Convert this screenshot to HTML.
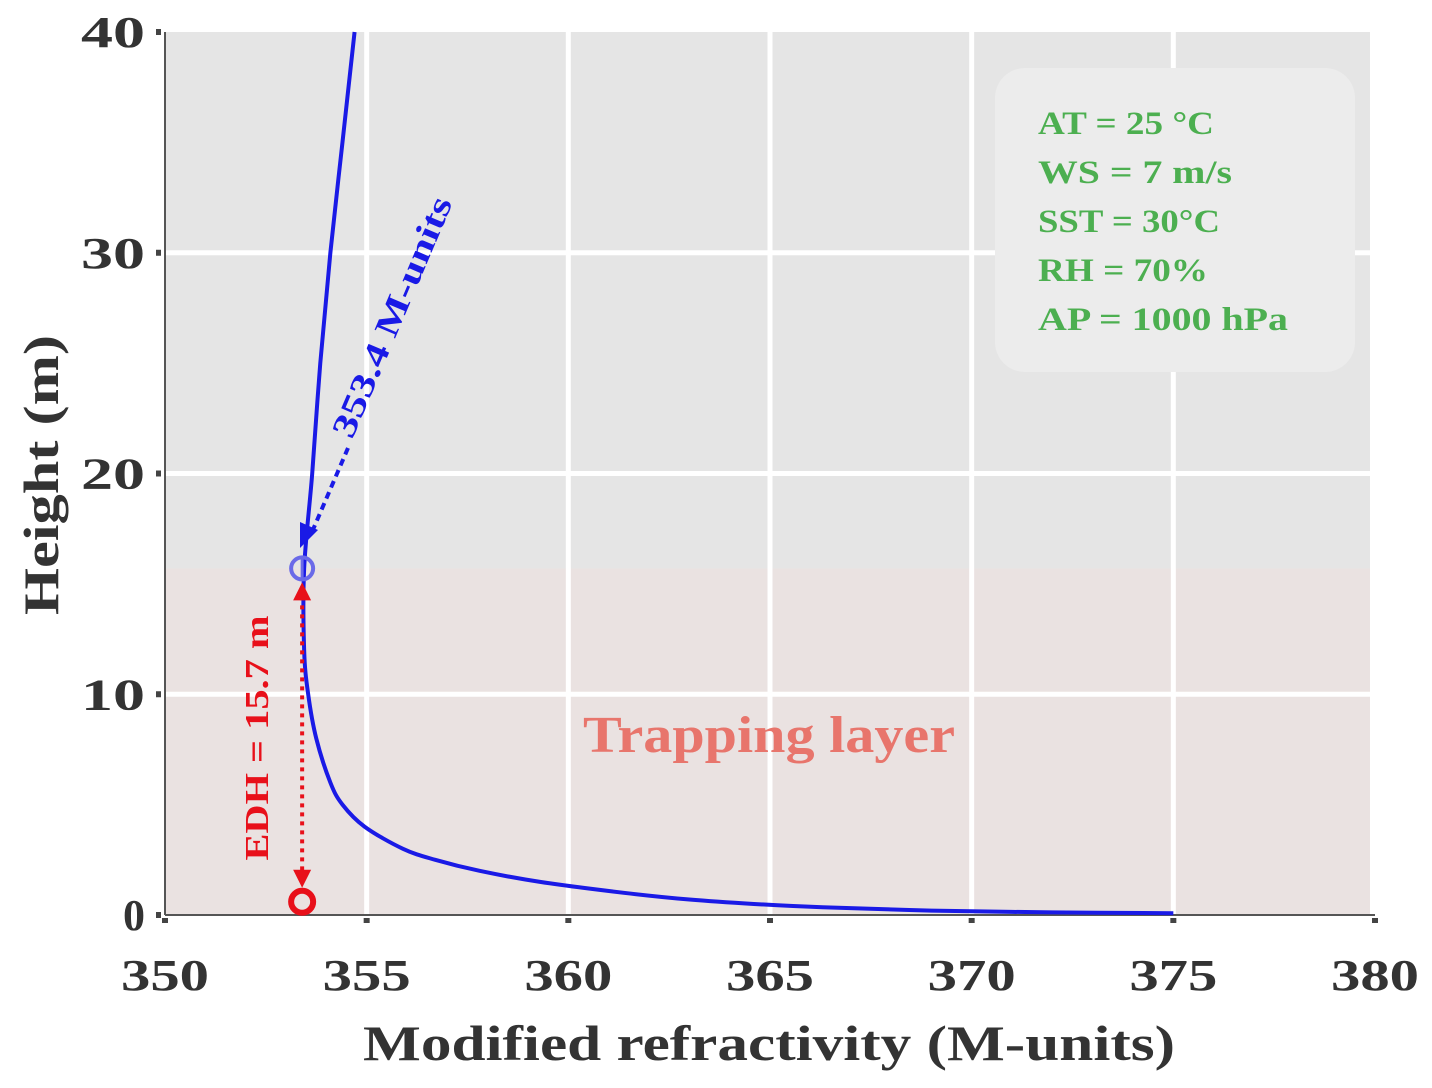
<!DOCTYPE html>
<html><head><meta charset="utf-8"><style>
body{margin:0;background:#fff;}
svg text{font-family:"Liberation Serif",serif;font-weight:bold;}
</style></head><body>
<svg id="chart" width="1432" height="1083" viewBox="0 0 1432 1083" xmlns="http://www.w3.org/2000/svg">
<g id="plot"></g>
</svg>
<script>
const heights=[40,35,30,25,20,15.7,12,10,8,6,5,4,3,2.5,2,1.5,1.0,0.7,0.5,0.35,0.2,0.12,0.08];
const mValues=[354.7,354.4,354.1,353.85,353.65,353.45,353.45,353.55,353.75,354.1,354.4,354.95,355.9,356.7,357.8,359.3,361.4,363.0,364.6,366.3,369.0,372.0,375.0];
const xTicks=[350,355,360,365,370,375,380];
const yTicks=[0,10,20,30,40];
const edh=15.7, mMin=353.4;
const legendLines=["AT = 25 °C","WS = 7 m/s","SST = 30°C","RH = 70%","AP = 1000 hPa"];
const legendWidths=[176,194,182,170,250];

const X0=165,X1=1375,Y0=915,Y1=32;
const xs=v=>X0+(v-350)/30*(X1-X0);
const ys=v=>Y0-(v/40)*(Y0-Y1);
const NS="http://www.w3.org/2000/svg";
const g=document.getElementById('plot');
function mk(t,a,p){const e=document.createElementNS(NS,t);for(const k in a)e.setAttribute(k,a[k]);(p||g).appendChild(e);return e;}

const bg=mk('rect',{x:X0,y:Y1,width:1370-X0,height:Y0-Y1,fill:'#e5e5e5'});


const trap=mk('rect',{x:X0,y:ys(edh),width:1370-X0,height:Y0-ys(edh),fill:'#eae2e1'});



xTicks.forEach(t=>{
 if(t>350&&t<380){const l=mk('line',{x1:xs(t),x2:xs(t),y1:Y1,y2:Y0,stroke:'#fff','stroke-width':5});
 
 }
 mk('rect',{x:xs(t)-3,y:Y0+3,width:6,height:5,fill:'#444'});
 const tx=mk('text',{x:xs(t),y:990,'text-anchor':'middle','font-size':44,fill:'#333',textLength:88,lengthAdjust:'spacingAndGlyphs'});
 tx.textContent=t;
 
 
});
yTicks.forEach(t=>{
 if(t>0&&t<40){const l=mk('line',{x1:X0,x2:1370,y1:ys(t),y2:ys(t),stroke:'#fff','stroke-width':5});
 
 }
 mk('rect',{x:X0-9,y:ys(t)-3,width:5,height:6,fill:'#444'});
 const a={x:145,y:ys(t)+15,'text-anchor':'end','font-size':44,fill:'#333'};
 if(t>0){a.textLength=64;a.lengthAdjust='spacingAndGlyphs';}
 const tx=mk('text',a);
 tx.textContent=t;
 
 
});
mk('line',{x1:X0,x2:X0,y1:Y1,y2:Y0,stroke:'#555','stroke-width':2});
mk('line',{x1:X0,x2:1375,y1:Y0,y2:Y0,stroke:'#555','stroke-width':2});

const pts=heights.map((h,i)=>[xs(mValues[i]),ys(h)]);
let d='M'+pts[0][0]+','+pts[0][1];
for(let i=0;i<pts.length-1;i++){
 const p0=pts[Math.max(0,i-1)],p1=pts[i],p2=pts[i+1],p3=pts[Math.min(pts.length-1,i+2)];
 d+=' C'+(p1[0]+(p2[0]-p0[0])/6)+','+(p1[1]+(p2[1]-p0[1])/6)+' '+(p2[0]-(p3[0]-p1[0])/6)+','+(p2[1]-(p3[1]-p1[1])/6)+' '+p2[0]+','+p2[1];
}
const curve=mk('path',{d:d,fill:'none',stroke:'#1a1ae6','stroke-width':4});



const cx=xs(mMin);
const topC=mk('circle',{cx:cx,cy:ys(edh),r:11,fill:'none',stroke:'#6a6ae8','stroke-width':4});


mk('line',{x1:cx,x2:cx,y1:ys(edh)-10,y2:ys(edh)+10,stroke:'#6a6ae8','stroke-width':3});
const botC=mk('circle',{cx:cx,cy:ys(0.6),r:11,fill:'none',stroke:'#e8101a','stroke-width':6});



const ea=mk('line',{x1:cx,x2:cx,y1:ys(edh)+28,y2:ys(0.6)-30,stroke:'#e8101a','stroke-width':4,'stroke-dasharray':'4,5'});


mk('polygon',{points:`${cx-9},${ys(edh)+32} ${cx+9},${ys(edh)+32} ${cx},${ys(edh)+14}`,fill:'#e8101a'});
mk('polygon',{points:`${cx-9},${ys(0.6)-32} ${cx+9},${ys(0.6)-32} ${cx},${ys(0.6)-14}`,fill:'#e8101a'});
const et=mk('text',{x:0,y:0,'text-anchor':'middle','font-size':34,fill:'#e8101a',transform:`translate(268,738) rotate(-90)`,textLength:245,lengthAdjust:'spacingAndGlyphs'});
et.textContent='EDH = 15.7 m';



const ba=mk('line',{x1:348,y1:448,x2:312,y2:532,stroke:'#1a1ae6','stroke-width':4,'stroke-dasharray':'7,5'});


mk('polygon',{points:'300,548 300,522 318,530',fill:'#1a1ae6'});
const bt=mk('text',{x:0,y:0,'text-anchor':'start','font-size':34,fill:'#1a1ae6',transform:'translate(352,440) rotate(-67)',textLength:258,lengthAdjust:'spacingAndGlyphs'});
bt.textContent='353.4 M-units';



const tl=mk('text',{x:769,y:752,'text-anchor':'middle','font-size':52,fill:'#e8756c',textLength:372,lengthAdjust:'spacingAndGlyphs'});
tl.textContent='Trapping layer';



const lb=mk('rect',{x:995,y:68,width:360,height:304,rx:30,fill:'#ececec'});


legendLines.forEach((s,i)=>{
 const t=mk('text',{x:1038,y:134+i*49,'font-size':33,fill:'#4caf50',textLength:legendWidths[i],lengthAdjust:'spacingAndGlyphs'});
 t.textContent=s;
 
 
});

const xt=mk('text',{x:769,y:1060,'text-anchor':'middle','font-size':50,fill:'#333',textLength:812,lengthAdjust:'spacingAndGlyphs'});
xt.textContent='Modified refractivity (M-units)';


const yt=mk('text',{x:0,y:0,'text-anchor':'middle','font-size':50,fill:'#333',transform:'translate(58,475) rotate(-90)',textLength:280,lengthAdjust:'spacingAndGlyphs'});
yt.textContent='Height (m)';


</script>
</body></html>
